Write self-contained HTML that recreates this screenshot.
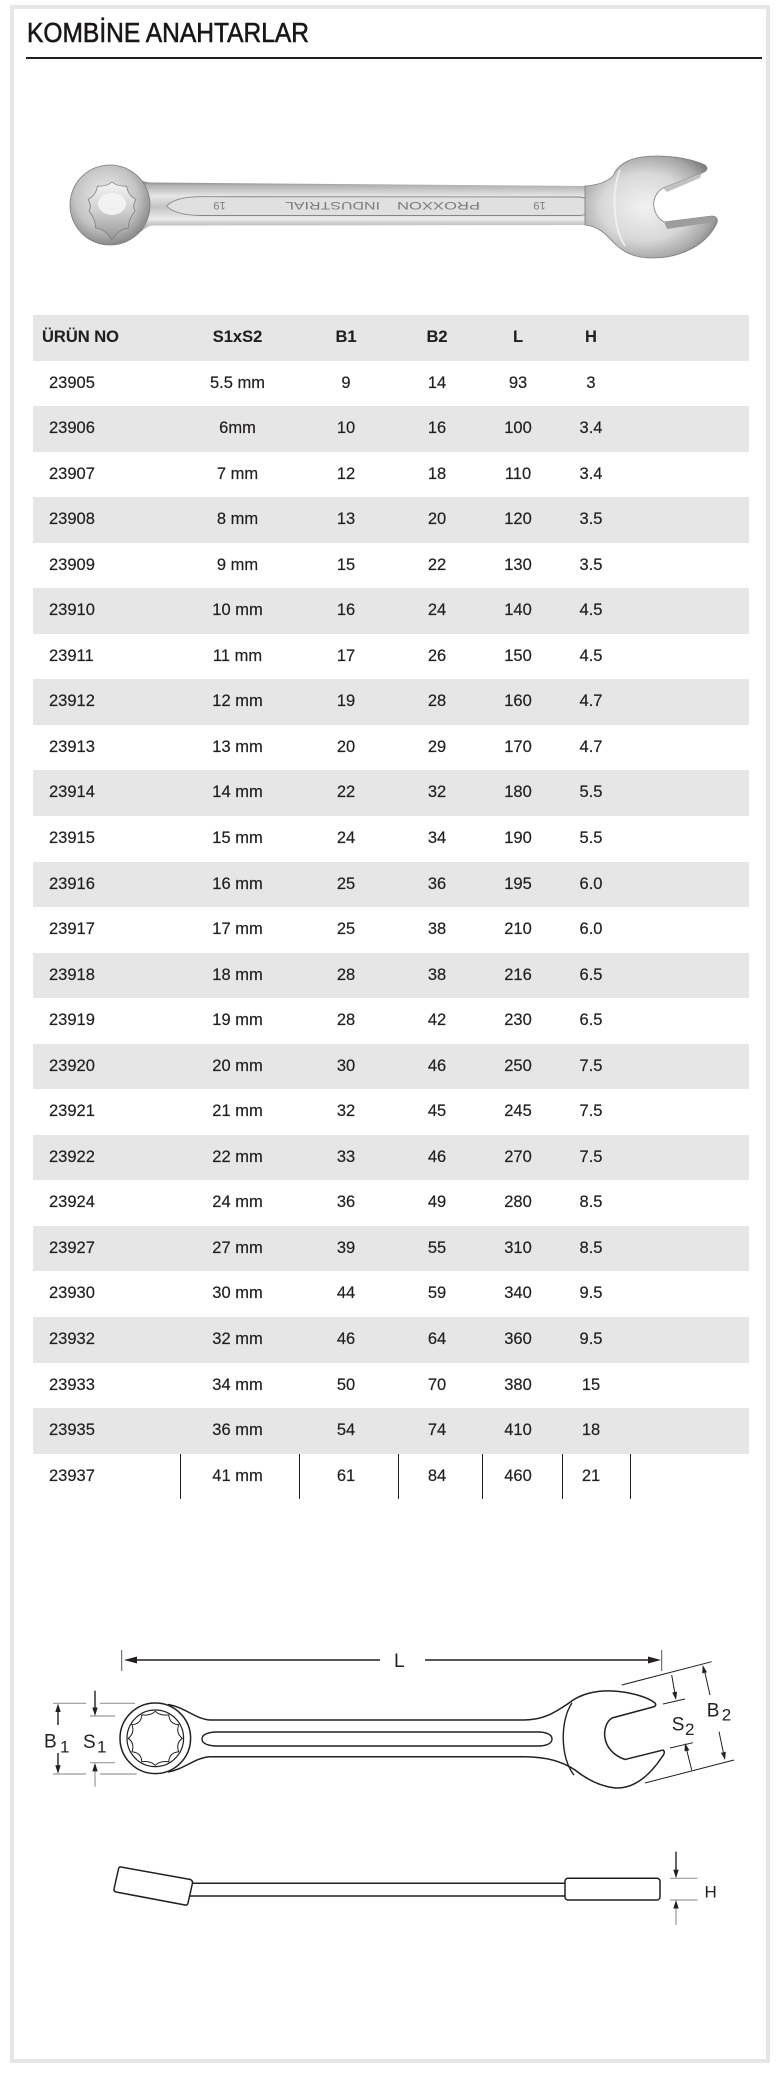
<!DOCTYPE html>
<html>
<head>
<meta charset="utf-8">
<style>
html,body{margin:0;padding:0;background:#fff;}
body{width:778px;height:2074px;position:relative;overflow:hidden;font-family:"Liberation Sans",Arial,sans-serif;color:#231f20;}
.frame{position:absolute;left:10px;top:5px;width:760px;height:2058px;border:4px solid #e6e6e6;box-sizing:border-box;}
.title{position:absolute;left:27px;top:19px;font-size:28px;line-height:28px;white-space:nowrap;transform:scaleX(0.877);transform-origin:0 0;color:#1a1718;-webkit-text-stroke:0.6px #1a1718;}
.rule{position:absolute;left:26px;top:57px;width:736px;height:2px;background:#231f20;}
.tbl{position:absolute;left:33px;top:315px;width:716px;}
.row{position:relative;height:45.55px;line-height:45.55px;font-size:16.5px;white-space:nowrap;-webkit-text-stroke:0.2px #231f20;}
.g{background:#e6e6e6;}
.row span{position:absolute;top:0;width:100px;margin-left:-50px;text-align:center;}
.row span.c1{margin-left:0;width:auto;text-align:left;left:16px;}
.hd{font-weight:bold;-webkit-text-stroke:0.1px #231f20;}
.hd span.c1{left:9px;}
.c2{left:204.5px;}.c3{left:313px;}.c4{left:404px;}.c5{left:485px;}.c6{left:558px;}
.vl{position:absolute;top:1454px;width:1px;height:45px;background:#231f20;}
svg{position:absolute;left:0;top:0;}
</style>
</head>
<body>
<div class="frame"></div>
<div class="title">KOMBİNE ANAHTARLAR</div>
<div class="rule"></div>

<div class="tbl">
<div class="row g hd"><span class="c1">ÜRÜN NO</span><span class="c2">S1xS2</span><span class="c3">B1</span><span class="c4">B2</span><span class="c5">L</span><span class="c6">H</span></div>
<div class="row"><span class="c1">23905</span><span class="c2">5.5 mm</span><span class="c3">9</span><span class="c4">14</span><span class="c5">93</span><span class="c6">3</span></div>
<div class="row g"><span class="c1">23906</span><span class="c2">6mm</span><span class="c3">10</span><span class="c4">16</span><span class="c5">100</span><span class="c6">3.4</span></div>
<div class="row"><span class="c1">23907</span><span class="c2">7 mm</span><span class="c3">12</span><span class="c4">18</span><span class="c5">110</span><span class="c6">3.4</span></div>
<div class="row g"><span class="c1">23908</span><span class="c2">8 mm</span><span class="c3">13</span><span class="c4">20</span><span class="c5">120</span><span class="c6">3.5</span></div>
<div class="row"><span class="c1">23909</span><span class="c2">9 mm</span><span class="c3">15</span><span class="c4">22</span><span class="c5">130</span><span class="c6">3.5</span></div>
<div class="row g"><span class="c1">23910</span><span class="c2">10 mm</span><span class="c3">16</span><span class="c4">24</span><span class="c5">140</span><span class="c6">4.5</span></div>
<div class="row"><span class="c1">23911</span><span class="c2">11 mm</span><span class="c3">17</span><span class="c4">26</span><span class="c5">150</span><span class="c6">4.5</span></div>
<div class="row g"><span class="c1">23912</span><span class="c2">12 mm</span><span class="c3">19</span><span class="c4">28</span><span class="c5">160</span><span class="c6">4.7</span></div>
<div class="row"><span class="c1">23913</span><span class="c2">13 mm</span><span class="c3">20</span><span class="c4">29</span><span class="c5">170</span><span class="c6">4.7</span></div>
<div class="row g"><span class="c1">23914</span><span class="c2">14 mm</span><span class="c3">22</span><span class="c4">32</span><span class="c5">180</span><span class="c6">5.5</span></div>
<div class="row"><span class="c1">23915</span><span class="c2">15 mm</span><span class="c3">24</span><span class="c4">34</span><span class="c5">190</span><span class="c6">5.5</span></div>
<div class="row g"><span class="c1">23916</span><span class="c2">16 mm</span><span class="c3">25</span><span class="c4">36</span><span class="c5">195</span><span class="c6">6.0</span></div>
<div class="row"><span class="c1">23917</span><span class="c2">17 mm</span><span class="c3">25</span><span class="c4">38</span><span class="c5">210</span><span class="c6">6.0</span></div>
<div class="row g"><span class="c1">23918</span><span class="c2">18 mm</span><span class="c3">28</span><span class="c4">38</span><span class="c5">216</span><span class="c6">6.5</span></div>
<div class="row"><span class="c1">23919</span><span class="c2">19 mm</span><span class="c3">28</span><span class="c4">42</span><span class="c5">230</span><span class="c6">6.5</span></div>
<div class="row g"><span class="c1">23920</span><span class="c2">20 mm</span><span class="c3">30</span><span class="c4">46</span><span class="c5">250</span><span class="c6">7.5</span></div>
<div class="row"><span class="c1">23921</span><span class="c2">21 mm</span><span class="c3">32</span><span class="c4">45</span><span class="c5">245</span><span class="c6">7.5</span></div>
<div class="row g"><span class="c1">23922</span><span class="c2">22 mm</span><span class="c3">33</span><span class="c4">46</span><span class="c5">270</span><span class="c6">7.5</span></div>
<div class="row"><span class="c1">23924</span><span class="c2">24 mm</span><span class="c3">36</span><span class="c4">49</span><span class="c5">280</span><span class="c6">8.5</span></div>
<div class="row g"><span class="c1">23927</span><span class="c2">27 mm</span><span class="c3">39</span><span class="c4">55</span><span class="c5">310</span><span class="c6">8.5</span></div>
<div class="row"><span class="c1">23930</span><span class="c2">30 mm</span><span class="c3">44</span><span class="c4">59</span><span class="c5">340</span><span class="c6">9.5</span></div>
<div class="row g"><span class="c1">23932</span><span class="c2">32 mm</span><span class="c3">46</span><span class="c4">64</span><span class="c5">360</span><span class="c6">9.5</span></div>
<div class="row"><span class="c1">23933</span><span class="c2">34 mm</span><span class="c3">50</span><span class="c4">70</span><span class="c5">380</span><span class="c6">15</span></div>
<div class="row g"><span class="c1">23935</span><span class="c2">36 mm</span><span class="c3">54</span><span class="c4">74</span><span class="c5">410</span><span class="c6">18</span></div>
<div class="row"><span class="c1">23937</span><span class="c2">41 mm</span><span class="c3">61</span><span class="c4">84</span><span class="c5">460</span><span class="c6">21</span></div>
</div>
<div class="vl" style="left:180px"></div>
<div class="vl" style="left:299px"></div>
<div class="vl" style="left:398px"></div>
<div class="vl" style="left:482px"></div>
<div class="vl" style="left:562px"></div>
<div class="vl" style="left:630px"></div>

<svg width="778" height="2074" viewBox="0 0 778 2074" xmlns="http://www.w3.org/2000/svg">
<defs>
<linearGradient id="hg" x1="0" y1="0" x2="0" y2="1">
<stop offset="0" stop-color="#6f6f6f"/>
<stop offset="0.1" stop-color="#b2b2b2"/>
<stop offset="0.3" stop-color="#e6e6e6"/>
<stop offset="0.5" stop-color="#c4c4c4"/>
<stop offset="0.72" stop-color="#ebebeb"/>
<stop offset="0.9" stop-color="#a9a9a9"/>
<stop offset="1" stop-color="#727272"/>
</linearGradient>
<radialGradient id="rg" cx="0.45" cy="0.4" r="0.65">
<stop offset="0" stop-color="#eeeeee"/>
<stop offset="0.6" stop-color="#c4c4c4"/>
<stop offset="1" stop-color="#7c7c7c"/>
</radialGradient>
<radialGradient id="hdg" cx="0.45" cy="0.5" r="0.6">
<stop offset="0" stop-color="#f2f2f2"/>
<stop offset="0.55" stop-color="#d8d8d8"/>
<stop offset="0.85" stop-color="#a8a8a8"/>
<stop offset="1" stop-color="#7e7e7e"/>
</radialGradient>
<linearGradient id="hole" x1="0" y1="0" x2="0" y2="1">
<stop offset="0" stop-color="#f6f6f6"/>
<stop offset="0.5" stop-color="#cfcfcf"/>
<stop offset="1" stop-color="#959595"/>
</linearGradient>
</defs>

<!-- photo wrench -->
<path d="M140,180 C145,182 148,182.5 152,182.5 L590,186 L590,225 L152,225.5 C147,226 143,230 138,234 Z" fill="url(#hg)"/>
<circle cx="110" cy="205" r="40" fill="url(#rg)" stroke="#7d7d7d" stroke-width="0.8"/>
<path fill="url(#hole)" stroke="#7f7f7f" stroke-width="0.8" d="M112,182 Q117,186.5 126.5,186.2 Q128,195 135.9,199.5 Q132,206 135,211 Q128,220 128.5,228 Q119,229 112,240 Q105,229 95.5,228 Q96,220 89,211 Q92,206 88.1,199.5 Q96,195 97.5,186.2 Q107,186.5 112,182 Z"/>
<ellipse cx="112" cy="204" rx="14" ry="11" fill="#f7f7f7" opacity="0.85"/>
<path d="M166.7,206 Q175,197 200,196.7 L580,197 Q592,199 592,206.5 Q592,214 580,215.5 L200,215.5 Q175,215 166.7,206 Z" fill="#e0e0e0" stroke="#858585" stroke-width="0.9"/>
<g font-family="Liberation Sans, Arial, sans-serif" font-size="11" fill="#7c7c7c" text-anchor="middle">
<text x="219.5" y="210" transform="rotate(180 219.5 206)">19</text>
<text x="332.5" y="210" textLength="95" lengthAdjust="spacingAndGlyphs" transform="rotate(180 332.5 206)">INDUSTRIAL</text>
<text x="438.5" y="210" textLength="83" lengthAdjust="spacingAndGlyphs" transform="rotate(180 438.5 206)">PROXXON</text>
<text x="539.5" y="210" transform="rotate(180 539.5 206)">19</text>
</g>
<path d="M585,186 C600,185 608,181 613,176 C617,166 627,159 642,157 C665,154 690,158 705,165 Q710,170 702,173 L663,188 C650,196 651,214 664,222 L712,216 Q720,217 716,225 C705,245 682,258 652,258 C633,258 622,251 614,243 C606,234 598,226 585,225 Z" fill="url(#hdg)" stroke="#7d7d7d" stroke-width="0.8"/>
<path d="M664,222 L712,216 L714,222 L667,229 Z" fill="#9d9d9d"/>
<path d="M663,188 L702,173 L700,178 L667,192 Z" fill="#c2c2c2"/>
<path d="M620,170 C612,190 612,225 625,246" fill="none" stroke="#f4f4f4" stroke-width="2" opacity="0.8"/>

<!-- technical drawing: top view -->
<g fill="none" stroke="#231f20" stroke-width="1.5">
<path d="M168,1704.5 C185,1707 195,1719 210,1720 L524,1720 C545,1720 557,1711 569,1703 C580,1694 596,1690 613,1691 C630,1692 648,1697 655,1703 Q657,1706 653,1707 L612,1718 C601,1725 600,1751 625,1759.5 L663,1750 Q666,1752 662,1757 C650,1775 635,1789 615,1788 C598,1786 585,1778 575,1770 C562,1761 546,1756.7 524,1756.7 L210,1756.7 C195,1757.5 185,1769 168,1772"/>
<circle cx="155.3" cy="1738.3" r="35.3"/>
<circle cx="155.3" cy="1738.3" r="28.3" stroke-width="1.2"/>
<path d="M215,1732 L540,1732 Q552,1733 552,1739 Q552,1745 540,1746 L215,1746 Q202,1745 202,1739 Q202,1733 215,1732 Z" stroke-width="1.4"/>
<path d="M572,1703 C560,1720 560,1758 574,1775" stroke-width="1.4"/>
<path stroke-width="1" d="M155.3,1711.3 Q160,1716 168.8,1714.9 Q169.4,1724 178.7,1724.8 Q175.6,1733 182.3,1738.3 Q175.6,1743.6 178.7,1751.8 Q169.4,1752.6 168.8,1761.7 Q160,1760.6 155.3,1765.3 Q150.6,1760.6 141.8,1761.7 Q141.2,1752.6 131.9,1751.8 Q135,1743.6 128.3,1738.3 Q135,1733 131.9,1724.8 Q141.2,1724 141.8,1714.9 Q150.6,1716 155.3,1711.3 Z"/>
</g>

<!-- L dimension -->
<g stroke="#231f20" stroke-width="1.5" fill="none">
<line x1="135" y1="1660" x2="380" y2="1660"/>
<line x1="425" y1="1660" x2="651" y2="1660"/>
</g>
<g stroke="#555" stroke-width="1">
<line x1="121.7" y1="1650" x2="121.7" y2="1671"/>
<line x1="661.7" y1="1650" x2="661.7" y2="1671"/>
</g>
<g fill="#231f20">
<polygon points="124,1660 137,1656.5 137,1663.5"/>
<polygon points="661,1660 648,1656.5 648,1663.5"/>
</g>

<!-- left dims -->
<g stroke="#9a9a9a" stroke-width="1.2">
<line x1="53" y1="1703.3" x2="86" y2="1703.3"/>
<line x1="100" y1="1703.3" x2="135" y2="1703.3"/>
<line x1="90" y1="1716" x2="115" y2="1716"/>
<line x1="90" y1="1762.7" x2="115" y2="1762.7"/>
<line x1="53" y1="1774" x2="86" y2="1774"/>
<line x1="100" y1="1774" x2="136.7" y2="1774"/>
<line x1="95" y1="1770" x2="95" y2="1786.7"/>
</g>
<g stroke="#231f20" stroke-width="1.4">
<line x1="58" y1="1725" x2="58" y2="1710"/>
<line x1="58" y1="1753" x2="58" y2="1767"/>
<line x1="95" y1="1690.7" x2="95" y2="1709"/>
</g>
<g fill="#231f20">
<polygon points="58,1703.5 55.3,1712 60.7,1712"/>
<polygon points="58,1773.8 55.3,1765.3 60.7,1765.3"/>
<polygon points="95,1716 92.3,1707.5 97.7,1707.5"/>
<polygon points="95,1762.9 92.3,1771.4 97.7,1771.4"/>
</g>

<!-- right dims -->
<g stroke="#231f20" stroke-width="1">
<line x1="621.7" y1="1685" x2="711.7" y2="1661.7"/>
<line x1="663" y1="1704" x2="685" y2="1699"/>
<line x1="670" y1="1748" x2="693" y2="1742.7"/>
<line x1="645" y1="1783" x2="734" y2="1760"/>
<line x1="671.7" y1="1675" x2="674.8" y2="1693"/>
<line x1="691.7" y1="1770" x2="686.7" y2="1750"/>
<line x1="710" y1="1695" x2="704.8" y2="1672"/>
<line x1="719" y1="1731.7" x2="723.3" y2="1752"/>
</g>
<g fill="#231f20">
<polygon points="676,1700 677.1,1691.7 672.2,1692.5"/>
<polygon points="685,1743 689.4,1750.2 684.5,1751.4"/>
<polygon points="702.7,1665 707,1672.2 702.2,1673.4"/>
<polygon points="725,1760 725.8,1751.7 720.9,1752.7"/>
</g>

<!-- labels -->
<g font-family="Liberation Sans, Arial, sans-serif" fill="#231f20">
<text x="394" y="1667" font-size="19">L</text>
<text x="44" y="1747.7" font-size="19">B</text>
<text x="60" y="1752.5" font-size="17">1</text>
<text x="83" y="1748" font-size="19">S</text>
<text x="97" y="1752.5" font-size="17">1</text>
<text x="706.7" y="1716.7" font-size="19">B</text>
<text x="721.7" y="1720.7" font-size="17">2</text>
<text x="671.7" y="1730.7" font-size="19">S</text>
<text x="685" y="1735" font-size="17">2</text>
<text x="704.5" y="1897.3" font-size="17">H</text>
</g>

<!-- side view -->
<g fill="#fff" stroke="#231f20" stroke-width="1.5" stroke-linejoin="round">
<line x1="190" y1="1883.3" x2="566" y2="1883.3"/>
<line x1="188" y1="1896" x2="566" y2="1896"/>
<path d="M121,1867 L190.5,1879.5 Q193,1881 192.5,1883 L188,1903 Q187.5,1905.5 185,1905 L116,1892 Q113.5,1891 114,1889 L118.5,1869 Q119,1866.5 121,1867 Z"/>
<rect x="565" y="1878.3" width="95" height="21.7" rx="3" ry="3"/>
</g>
<g stroke="#9a9a9a" stroke-width="1.2">
<line x1="670" y1="1878.3" x2="697.5" y2="1878.3"/>
<line x1="670" y1="1900" x2="697.5" y2="1900"/>
<line x1="676" y1="1907" x2="676" y2="1925"/>
</g>
<line x1="676" y1="1851.7" x2="676" y2="1871" stroke="#231f20" stroke-width="1.4"/>
<g fill="#231f20">
<polygon points="676,1878.3 673.3,1869.8 678.7,1869.8"/>
<polygon points="676,1900 673.3,1908.5 678.7,1908.5"/>
</g>
</svg>
</body>
</html>
